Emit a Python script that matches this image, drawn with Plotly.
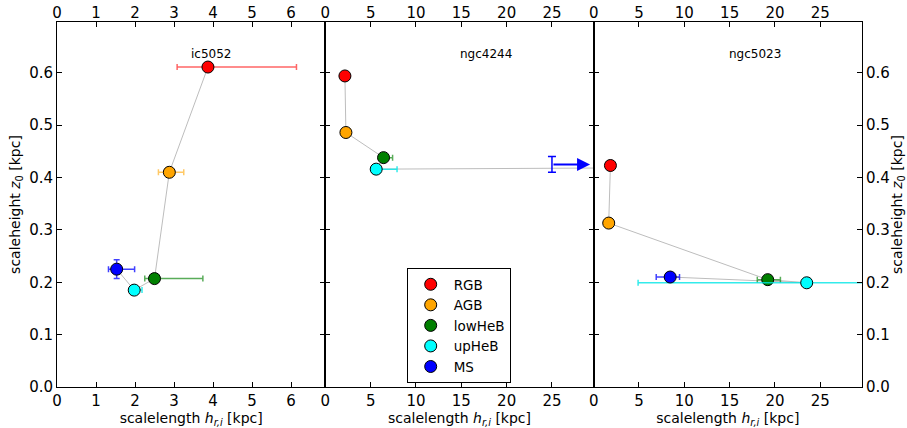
import plotly.graph_objects as go

# ---------------- data ----------------
galaxies = ["ic5052", "ngc4244", "ngc5023"]
populations = ["RGB", "AGB", "lowHeB", "upHeB", "MS"]
colors = ["#ff0000", "#ffa500", "#008000", "#00ffff", "#0000ff"]
err_colors = ["rgba(255,0,0,0.6)", "rgba(255,165,0,0.6)", "rgba(0,128,0,0.65)",
              "rgba(0,230,230,0.8)", "rgba(0,0,255,0.75)"]

# ic5052
ic5052_hr = [3.87, 2.88, 2.50, 1.98, 1.53]
ic5052_hr_lo = [0.79, 0.28, 0.25, 0.10, 0.21]
ic5052_hr_hi = [2.27, 0.37, 1.24, 0.20, 0.46]
ic5052_z0 = [0.611, 0.410, 0.207, 0.185, 0.225]
ic5052_z0_err = [0.0, 0.0, 0.0, 0.0, 0.018]

# ngc4244 (MS scalelength is off the chart: lower limit shown with arrow)
ngc4244_hr = [2.16, 2.27, 6.42, 5.61, 110.0]
ngc4244_hr_lo = [0.0, 0.0, 0.5, 0.5, 0.0]
ngc4244_hr_hi = [0.0, 0.0, 1.0, 2.3, 0.0]
ngc4244_z0 = [0.594, 0.486, 0.438, 0.416, 0.425]
ngc4244_z0_err = [0.0, 0.0, 0.0, 0.0, 0.0]
ngc4244_ms_limit_hr = 25.0
ngc4244_ms_limit_end = 29.2
ngc4244_ms_limit_z0 = 0.425
ngc4244_ms_limit_z0_err = 0.015

# ngc5023
ngc5023_hr = [1.85, 1.66, 19.2, 23.5, 8.44]
ngc5023_hr_lo = [0.0, 0.0, 1.15, 18.6, 1.54]
ngc5023_hr_hi = [0.0, 0.0, 1.40, 12.0, 1.03]
ngc5023_z0 = [0.423, 0.313, 0.205, 0.199, 0.210]
ngc5023_z0_err = [0.0, 0.0, 0.0, 0.0, 0.004]

x_ranges = [[0, 6.88], [0, 29.6], [0, 29.6]]
x_dticks = [1, 5, 5]
y_range = [0, 0.697]
title_pos_x = [3.96, 17.7, 17.8]
title_pos_y = 0.636

panels = [
    (ic5052_hr, ic5052_hr_lo, ic5052_hr_hi, ic5052_z0, ic5052_z0_err),
    (ngc4244_hr, ngc4244_hr_lo, ngc4244_hr_hi, ngc4244_z0, ngc4244_z0_err),
    (ngc5023_hr, ngc5023_hr_lo, ngc5023_hr_hi, ngc5023_z0, ngc5023_z0_err),
]

FONT = "DejaVu Sans"
TICKSIZE = 15
fig = go.Figure()

for p, (hr, lo, hi, z0, zerr) in enumerate(panels):
    xa = "x" if p == 0 else f"x{p+1}"
    ya = "y" if p == 0 else f"y{p+1}"
    # connecting gray line
    fig.add_trace(go.Scatter(x=hr, y=z0, mode="lines", xaxis=xa, yaxis=ya,
                             line=dict(color="#bdbdbd", width=1),
                             showlegend=False, hoverinfo="skip"))
    for i, pop in enumerate(populations):
        fig.add_trace(go.Scatter(
            x=[hr[i]], y=[z0[i]], mode="markers", xaxis=xa, yaxis=ya,
            name=pop, showlegend=(p == 0),
            marker=dict(size=12, color=colors[i], line=dict(color="black", width=1)),
            error_x=dict(type="data", symmetric=False, array=[hi[i]], arrayminus=[lo[i]],
                         color=err_colors[i], thickness=1.5, width=3,
                         visible=(hi[i] > 0 or lo[i] > 0)),
            error_y=dict(type="data", array=[zerr[i]], color=err_colors[i],
                         thickness=1.5, width=3, visible=zerr[i] > 0),
        ))

# ngc4244 MS lower limit marker (error bar + arrow)
fig.add_trace(go.Scatter(
    x=[ngc4244_ms_limit_hr], y=[ngc4244_ms_limit_z0], mode="markers",
    xaxis="x2", yaxis="y2", showlegend=False, hoverinfo="skip",
    marker=dict(size=1, color="rgba(0,0,0,0)"),
    error_y=dict(type="data", array=[ngc4244_ms_limit_z0_err], color="#0000ff",
                 thickness=1.5, width=4),
))

annotations = []
annotations.append(dict(
    x=ngc4244_ms_limit_end, y=ngc4244_ms_limit_z0, ax=ngc4244_ms_limit_hr,
    ay=ngc4244_ms_limit_z0, xref="x2", yref="y2", axref="x2", ayref="y2",
    text="", showarrow=True, arrowhead=2, arrowsize=1.3, arrowwidth=2,
    arrowcolor="#0000ff"))
for p, g in enumerate(galaxies):
    xa = "x" if p == 0 else f"x{p+1}"
    ya = "y" if p == 0 else f"y{p+1}"
    annotations.append(dict(x=title_pos_x[p], y=title_pos_y, xref=xa, yref=ya,
                            text=g, showarrow=False,
                            font=dict(family=FONT, size=12, color="black")))

domains = [[0, 1/3], [1/3, 2/3], [2/3, 1]]
xlabel = "scalelength <i>h</i><sub><i>r,i</i></sub> [kpc]"
ylabel = "scaleheight <i>z</i><sub>0</sub> [kpc]"

axis_common = dict(showline=True, linecolor="black", linewidth=1, ticks="inside",
                   ticklen=5, tickcolor="black", showgrid=False, zeroline=False,
                   automargin=False,
                   tickfont=dict(family=FONT, size=TICKSIZE, color="black"))

layout = dict(
    width=907, height=428,
    margin=dict(l=57, r=45, t=22, b=41, pad=0),
    paper_bgcolor="white", plot_bgcolor="white",
    font=dict(family=FONT, size=14, color="black"),
    annotations=annotations,
    legend=dict(x=0.4344, y=0.326, xanchor="left", yanchor="top",
                bgcolor="white", bordercolor="black", borderwidth=1,
                font=dict(family=FONT, size=13.5, color="black"),
                itemwidth=36),
)

for p in range(3):
    sfx = "" if p == 0 else str(p + 1)
    ysfx = "" if p == 0 else str(p + 1)
    layout[f"xaxis{sfx}"] = dict(
        **axis_common, domain=domains[p], range=x_ranges[p], dtick=x_dticks[p],
        tick0=0, anchor=f"y{ysfx}", mirror="ticks",
        title=dict(text=xlabel, font=dict(family=FONT, size=14), standoff=2))
    top_id = p + 4
    layout[f"xaxis{top_id}"] = dict(
        showline=False, ticks="", showgrid=False, zeroline=False, automargin=False,
        tickfont=dict(family=FONT, size=TICKSIZE, color="black"),
        overlaying=f"x{sfx}", matches=f"x{sfx}", side="top", anchor=f"y{ysfx}",
        range=x_ranges[p], dtick=x_dticks[p], tick0=0)
    yax = dict(**axis_common, domain=[0, 1], range=y_range, dtick=0.1, tick0=0,
               tickformat=".1f", anchor=f"x{sfx}", mirror="ticks")
    if p == 0:
        yax.update(side="left", title=dict(text=ylabel, font=dict(family=FONT, size=14), standoff=5))
    elif p == 1:
        yax.update(showticklabels=False)
    else:
        yax.update(side="right", title=dict(text=ylabel, font=dict(family=FONT, size=14), standoff=5))
    layout[f"yaxis{ysfx}"] = yax

# dummy traces to activate the top axes
for p in range(3):
    fig.add_trace(go.Scatter(x=[None], y=[None], xaxis=f"x{p+4}",
                             yaxis="y" if p == 0 else f"y{p+1}",
                             showlegend=False, hoverinfo="skip"))

fig.update_layout(**layout)
fig.write_html("out.html")
